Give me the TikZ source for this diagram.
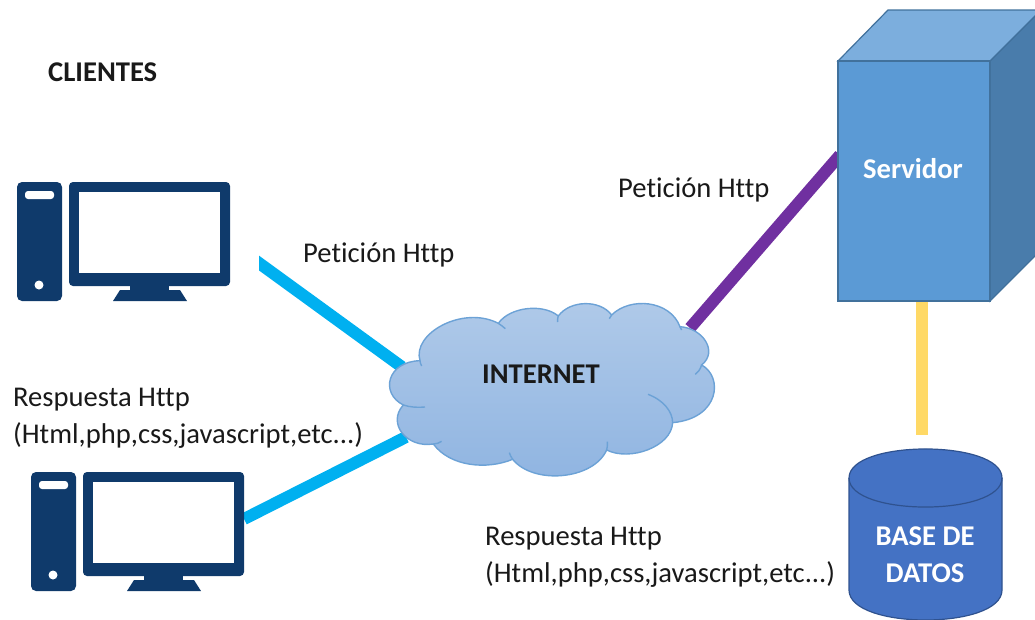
\documentclass[tikz,border=0pt]{standalone}
\usepackage{fontspec}
\setmainfont[Ligatures=CommonOff]{Carlito}
\definecolor{navy}{HTML}{0F3A6B}
\definecolor{cyanline}{HTML}{00B0F0}
\definecolor{purpleline}{HTML}{7030A0}
\definecolor{yellowline}{HTML}{FFD966}
\definecolor{cloudtop}{HTML}{B0CAE9}
\definecolor{cloudbot}{HTML}{8FB4E1}
\definecolor{cloudedge}{HTML}{6CA2D6}
\definecolor{srvfront}{HTML}{5B9AD5}
\definecolor{srvtop}{HTML}{7CAEDD}
\definecolor{srvside}{HTML}{497CAB}
\definecolor{srvedge}{HTML}{41719C}
\definecolor{dbfill}{HTML}{4472C4}
\definecolor{dbedge}{HTML}{2F528F}
\tikzset{
  label text/.style={inner sep=0pt,anchor=west,align=left,text=black!90,font=\fontsize{28.6}{37}\selectfont},
  bold text/.style={inner sep=0pt,align=center,font=\fontsize{28.6}{37}\selectfont\bfseries},
  link/.style={line width=12pt},
  computer/.pic={
    \fill[navy,rounded corners=5pt] (0,1) rectangle (45,120);
    \fill[white,rounded corners=3pt] (8,10) rectangle (37,18);
    \fill[white] (22,104) circle (4.5);
    \fill[navy,rounded corners=4pt] (52,1) rectangle (213,105);
    \fill[white] (62,11) rectangle (203,92);
    \fill[navy] (113,104) rectangle (152,110);
    \fill[navy] (103,109) -- (163,109) -- (170,120) -- (96,120) -- cycle;
  }
}
\begin{document}
\begin{tikzpicture}[x=1pt,y=-1pt]
\useasboundingbox (0,0) rectangle (1035,619);
\clip (0,0) rectangle (1035,619);
% end points of the connectors
\coordinate (c1end) at (250,256.5);
\coordinate (c1cloud) at (402,367);
\coordinate (c2end) at (244,519);
\coordinate (c2cloud) at (406,437);
\coordinate (srvcloud) at (690,328);
\coordinate (srvleft) at (840,155);
\coordinate (srvbot) at (922,300);
\coordinate (dbtop) at (922,435);
% connectors
\begin{scope}
\clip (259,200) rectangle (500,400);
\draw[link,cyanline] (c1end) -- (c1cloud);
\end{scope}
\draw[link,cyanline] (c2end) -- (c2cloud);
\draw[link,purpleline] (srvcloud) -- (srvleft);
\draw[line width=12pt,yellowline] (srvbot) -- (dbtop);
% computers
\pic at (17,181) {computer};
\pic at (31,471) {computer};
% cloud
\begin{scope}[shift={(370,290)},x=0.3333pt,y=-0.3333pt]
\draw[cloudedge,line width=1.4pt,top color=cloudtop,bottom color=cloudbot]
  (150,212)
  .. controls (125,130) and (280,45) .. (385,100)
  .. controls (420,50) and (520,40) .. (565,78)
  .. controls (600,30) and (690,28) .. (725,75)
  .. controls (780,20) and (900,30) .. (930,110)
  .. controls (1000,115) and (1045,185) .. (995,225)
  .. controls (1060,260) and (1050,385) .. (908,398)
  .. controls (905,470) and (780,515) .. (710,480)
  .. controls (670,570) and (490,585) .. (428,508)
  .. controls (350,540) and (240,530) .. (190,462)
  .. controls (110,475) and (50,400) .. (100,345)
  .. controls (30,310) and (50,215) .. (150,212)
  -- cycle;
\draw[cloudedge,line width=1.4pt]
  (385,100) .. controls (392,105) and (400,110) .. (406,116)
  (565,78) .. controls (563,84) and (562,90) .. (563,96)
  (725,75) .. controls (722,78) and (720,82) .. (718,86)
  (930,110) .. controls (933,113) and (934,116) .. (935,120)
  (995,225) .. controls (990,240) and (985,245) .. (976,253)
  (908,398) .. controls (908,365) and (880,330) .. (834,313)
  (710,480) .. controls (712,472) and (713,465) .. (712,455)
  (428,508) .. controls (424,502) and (420,495) .. (418,488)
  (190,462) .. controls (198,462) and (208,459) .. (215,454)
  (100,345) .. controls (120,352) and (145,353) .. (165,351)
  (150,212) .. controls (150,217) and (152,222) .. (155,228);
\end{scope}
\node[bold text,text=black!90] (internet) at (541,374) {INTERNET};
% server
\draw[srvedge,line width=1.2pt,fill=srvside] (990,61) -- (1041,10) -- (1041,250) -- (990,301) -- cycle;
\draw[srvedge,line width=1.2pt,fill=srvtop] (838,61) -- (888,10) -- (1041,10) -- (990,61) -- cycle;
\draw[srvedge,line width=1.2pt,fill=srvfront] (838,61) rectangle (990,301);
\node[bold text,text=white] (servidor) at (913,169) {Servidor};
% database
\draw[dbedge,line width=1.2pt,fill=dbfill]
  (849,478) -- (849,590) .. controls (849,630) and (1002,630) .. (1002,590)
  -- (1002,478) .. controls (1002,439.3) and (849,439.3) .. (849,478) -- cycle;
\draw[dbedge,line width=1.2pt] (849,478) .. controls (849,516.7) and (1002,516.7) .. (1002,478);
\node[bold text,text=white] (basedatos) at (925,555) {BASE DE\\DATOS};
% labels
\node[bold text,anchor=west,text=black!90] (clientes) at (48,72) {CLIENTES};
\node[label text] (pet1) at (303,255) {Petición Http};
\node[label text] (pet2) at (618,190) {Petición Http};
\node[label text] (resp1) at (13,418) {Respuesta Http\\(Html,php,css,javascript,etc...)};
\node[label text] (resp2) at (485,557) {Respuesta Http\\(Html,php,css,javascript,etc...)};
\end{tikzpicture}
\end{document}
